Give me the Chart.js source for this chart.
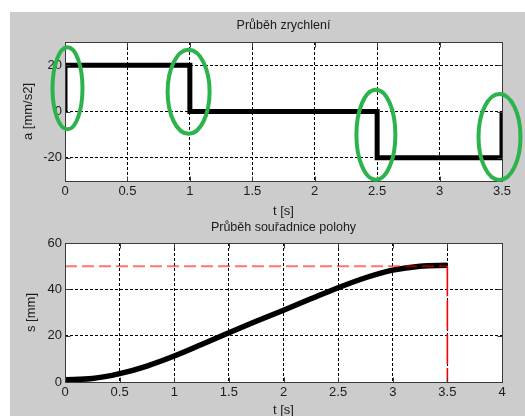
<!DOCTYPE html>
<html>
<head>
<meta charset="utf-8">
<script src="https://cdn.jsdelivr.net/npm/chart.js@4.4.1/dist/chart.umd.min.js"></script>
<style>
  html, body { margin: 0; padding: 0; background: #ffffff; width: 525px; height: 416px; overflow: hidden; }
  #bg { position: absolute; left: 10px; top: 12px; width: 515px; height: 404px; background: #cccccc; }
  canvas { position: absolute; left: 0; }
  #c1 { top: 0; }
  #c2 { top: 216px; }
</style>
</head>
<body>
<div id="bg"></div>
<canvas id="c1" width="525" height="222"></canvas>
<canvas id="c2" width="525" height="202"></canvas>
<script>
// ---------- data ----------
const accelTitle = 'Průběh zrychlení';
const posTitle = 'Průběh souřadnice polohy';
const xLabel = 't [s]';
const accelLabel = 'a [mm/s2]';
const posLabel = 's [mm]';

// acceleration profile (step) a [mm/s2] vs t [s]
const accelT = [0, 0, 1, 1, 2.5, 2.5, 3.5, 3.5];
const accelA = [0, 20, 20, 0, 0, -20, -20, 0];
const accelYTicks = [-20, 0, 20];

// position s [mm] vs t [s]
const posT = [0, 0.25, 0.5, 0.75, 1, 1.25, 1.5, 1.75, 2, 2.25, 2.5, 2.75, 3, 3.25, 3.5];
const posS = [1.0, 1.5, 3.6, 6.9, 11.2, 16.2, 21.3, 26.2, 31.0, 35.9, 40.7, 45.0, 48.3, 50.0, 50.4];
const posYTicks = [0, 20, 40, 60];

// target markers (red dashed)
const targetT = 3.5;
const targetS = 50;

// highlighted transitions (green ellipses), data coords
const ellipseT = [0.02, 0.99, 2.49, 3.48];
const ellipseA = [10, 8.5, -10, -11];

// ---------- styling ----------
const FONT = "'Liberation Sans', Arial, Helvetica, sans-serif";
const TXT = '#1c1c1c';
Chart.defaults.font.family = FONT;
Chart.defaults.color = TXT;

const whiteArea = {
  id: 'whiteArea',
  beforeDraw(chart) {
    const {ctx, chartArea: a} = chart;
    ctx.save();
    ctx.fillStyle = '#ffffff';
    ctx.fillRect(a.left, a.top, a.right - a.left, a.bottom - a.top);
    ctx.restore();
  }
};

const frameTicks = {
  id: 'frameTicks',
  afterDraw(chart) {
    const {ctx, chartArea: a, scales} = chart;
    const L = Math.round(a.left) + 0.5, R = Math.round(a.right) + 0.5;
    const T = Math.round(a.top) + 0.5, B = Math.round(a.bottom) + 0.5;
    ctx.save();
    ctx.strokeStyle = '#3a3a3a';
    ctx.lineWidth = 1;
    ctx.setLineDash([]);
    ctx.strokeRect(L, T, R - L, B - T);
    const len = 5;
    ctx.beginPath();
    scales.x.ticks.forEach(t => {
      const px = Math.round(scales.x.getPixelForValue(t.value)) + 0.5;
      ctx.moveTo(px, B); ctx.lineTo(px, B - len);
      ctx.moveTo(px, T); ctx.lineTo(px, T + len);
    });
    scales.y.ticks.forEach(t => {
      const py = Math.round(scales.y.getPixelForValue(t.value)) + 0.5;
      ctx.moveTo(L, py); ctx.lineTo(L + len, py);
      ctx.moveTo(R, py); ctx.lineTo(R - len, py);
    });
    ctx.stroke();
    ctx.restore();
  }
};

const ellipses = {
  id: 'ellipses',
  afterDraw(chart, args, opts) {
    const {ctx, scales} = chart;
    ctx.save();
    ctx.strokeStyle = opts.color;
    ctx.lineWidth = opts.width;
    ellipseT.forEach((t, i) => {
      const cx = scales.x.getPixelForValue(t);
      const cy = scales.y.getPixelForValue(ellipseA[i]);
      ctx.beginPath();
      ctx.ellipse(cx, cy, opts.rx[i], opts.ry[i], 0, 0, Math.PI * 2);
      ctx.stroke();
    });
    ctx.restore();
  }
};

function xScale(max, height, tickPad, titlePadBottom) {
  return {
    type: 'linear', min: 0, max: max,
    ticks: { stepSize: 0.5, padding: tickPad, font: { size: 13 }, color: TXT, maxRotation: 0,
             callback: v => String(v) },
    grid: { color: '#000000', lineWidth: 1, drawTicks: false },
    border: { display: false, dash: [3, 2] },
    title: { display: true, text: xLabel, font: { size: 13 }, color: TXT,
             padding: { top: 0, bottom: titlePadBottom } },
    afterFit(s) { s.height = height; }
  };
}

function yScale(min, max, ticksArr, label, titlePadTop) {
  return {
    type: 'linear', min: min, max: max,
    afterBuildTicks(s) { s.ticks = ticksArr.map(v => ({ value: v })); },
    ticks: { padding: 3, font: { size: 13 }, color: TXT },
    grid: { color: '#000000', lineWidth: 1, drawTicks: false },
    border: { display: false, dash: [3, 2] },
    title: { display: true, text: label, font: { size: 13 }, color: TXT,
             padding: { top: titlePadTop, bottom: 0 } },
    afterFit(s) { s.width = 65; }
  };
}

// ---------- chart 1: acceleration ----------
new Chart(document.getElementById('c1'), {
  type: 'line',
  data: {
    datasets: [{
      data: accelT.map((t, i) => ({ x: t, y: accelA[i] })),
      borderColor: '#000000',
      borderWidth: 5,
      pointRadius: 0,
      tension: 0,
      borderJoinStyle: 'miter',
      borderCapStyle: 'butt',
      clip: 0
    }]
  },
  options: {
    responsive: false,
    animation: false,
    events: [],
    layout: { padding: { left: 0, right: 23, top: 0, bottom: 0 } },
    plugins: {
      legend: { display: false },
      tooltip: { enabled: false },
      title: { display: true, text: accelTitle, color: TXT, fullSize: false,
               font: { size: 12.5, weight: 'normal' }, padding: { top: 18.5, bottom: 8.5 } },
      ellipses: { color: '#2db34c', width: 4, rx: [15, 21, 19.5, 21], ry: [41, 42, 45, 43] }
    },
    scales: {
      x: xScale(3.5, 41, 3, 3.2),
      y: yScale(-30, 30, accelYTicks, accelLabel, 20.5)
    }
  },
  plugins: [whiteArea, frameTicks, ellipses]
});

// ---------- chart 2: position ----------
new Chart(document.getElementById('c2'), {
  type: 'line',
  data: {
    datasets: [
      {
        data: [{ x: 0, y: targetS }, { x: targetT, y: targetS }],
        borderColor: 'rgba(255,0,0,0.55)',
        borderWidth: 2,
        borderDash: [12, 5],
        pointRadius: 0,
        clip: 0
      },
      {
        data: [{ x: targetT, y: targetS }, { x: targetT, y: 0 }],
        borderColor: '#ff0000',
        borderWidth: 1.6,
        borderDash: [30, 4],
        pointRadius: 0,
        clip: 0
      },
      {
        data: posT.map((t, i) => ({ x: t, y: posS[i] })),
        borderColor: '#000000',
        borderWidth: 5.5,
        pointRadius: 0,
        cubicInterpolationMode: 'monotone',
        borderCapStyle: 'butt',
        clip: 0
      }
    ]
  },
  options: {
    responsive: false,
    animation: false,
    events: [],
    layout: { padding: { left: 0, right: 23, top: 0, bottom: 0 } },
    plugins: {
      legend: { display: false },
      tooltip: { enabled: false },
      title: { display: true, text: posTitle, color: TXT, fullSize: false,
               font: { size: 12.5, weight: 'normal' }, padding: { top: 4.5, bottom: 7.5 } },
      ellipses: false
    },
    scales: {
      x: xScale(4, 36, 3, 0.2),
      y: yScale(0, 60, posYTicks, posLabel, 24)
    }
  },
  plugins: [whiteArea, frameTicks]
});
</script>
</body>
</html>
